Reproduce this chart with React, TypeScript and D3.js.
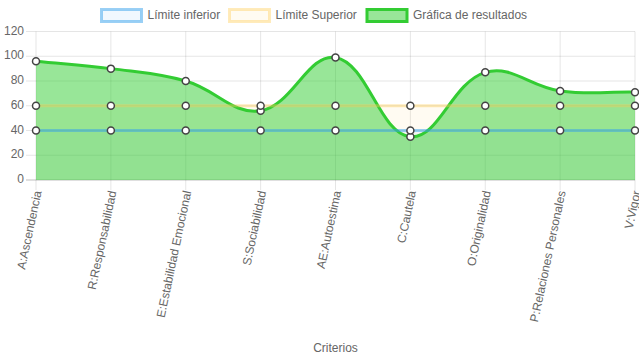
import React from "react";
import * as d3 from "d3";

const categories = [
  "A:Ascendencia",
  "R:Responsabilidad",
  "E:Estabilidad Emocional",
  "S:Sociabilidad",
  "AE:Autoestima",
  "C:Cautela",
  "O:Originalidad",
  "P:Relaciones Personales",
  "V:Vigor",
];
const limiteInferior = [40, 40, 40, 40, 40, 40, 40, 40, 40];
const limiteSuperior = [60, 60, 60, 60, 60, 60, 60, 60, 60];
const resultados = [96, 90, 80, 56, 99, 35, 87, 72, 71];
const yTicks = [0, 20, 40, 60, 80, 100, 120];
const legendLabels = ["Límite inferior", "Límite Superior", "Gráfica de resultados"];

const W = 639;
const H = 360;
const FONT = "'Helvetica Neue', Helvetica, Arial, 'Liberation Sans', sans-serif";

// same colours as the chart.js config would use
const series = [
  { name: legendLabels[0], data: limiteInferior, line: "rgba(54,162,235,0.5)", fill: "rgba(54,162,235,0.07)" },
  { name: legendLabels[1], data: limiteSuperior, line: "rgba(255,205,86,0.4)", fill: "rgba(255,205,86,0.08)" },
  { name: legendLabels[2], data: resultados, line: "#33cc33", fill: "rgba(50,205,50,0.5)" },
];
const legendX = [101.5, 229.5, 367];

type P = { x: number; y: number };

// chart.js style bezier (tension 0.4)
const splinePath = (pts: P[], tension = 0.4) => {
  const ctrl = pts.map((p1, i) => {
    const p0 = pts[i - 1] || p1;
    const p2 = pts[i + 1] || p1;
    const d01 = Math.hypot(p1.x - p0.x, p1.y - p0.y);
    const d12 = Math.hypot(p2.x - p1.x, p2.y - p1.y);
    let s01 = d01 / (d01 + d12);
    let s12 = d12 / (d01 + d12);
    if (isNaN(s01)) s01 = 0;
    if (isNaN(s12)) s12 = 0;
    const fa = tension * s01;
    const fb = tension * s12;
    return {
      prev: { x: p1.x - fa * (p2.x - p0.x), y: p1.y - fa * (p2.y - p0.y) },
      next: { x: p1.x + fb * (p2.x - p0.x), y: p1.y + fb * (p2.y - p0.y) },
    };
  });
  const path = d3.path();
  path.moveTo(pts[0].x, pts[0].y);
  for (let i = 1; i < pts.length; i++) {
    const a = ctrl[i - 1].next;
    const b = ctrl[i].prev;
    path.bezierCurveTo(a.x, a.y, b.x, b.y, pts[i].x, pts[i].y);
  }
  return path.toString();
};

const App = () => {
  const x = d3.scalePoint<string>().domain(categories).range([36, 635]);
  const y = d3.scaleLinear().domain([0, 120]).range([180, 31.5]);

  const lines = series.map((s) => {
    const pts = s.data.map((v, i) => ({ x: x(categories[i]) as number, y: y(v) }));
    const d = splinePath(pts);
    const area = `${d}L${pts[pts.length - 1].x},${y(0)}L${pts[0].x},${y(0)}Z`;
    return { ...s, pts, d, area };
  });

  return (
    <svg
      width={W}
      height={H}
      style={{ position: "absolute", left: 0, top: 0, fontFamily: FONT }}
    >
      <rect width={W} height={H} fill="#fff" />

      {/* legend */}
      {series.map((s, i) => (
        <g key={s.name}>
          <rect x={legendX[i]} y={9.5} width={40} height={12} fill={s.fill} stroke={s.line} strokeWidth={3} />
          <text x={legendX[i] + 46} y={15.5} dominantBaseline="middle" fontSize={12} fill="#666">
            {s.name}
          </text>
        </g>
      ))}

      {/* grid */}
      {yTicks.map((t) => (
        <g key={t}>
          <line
            x1={26}
            x2={635}
            y1={y(t)}
            y2={y(t)}
            stroke={t === 0 ? "rgba(0,0,0,0.25)" : "rgba(0,0,0,0.1)"}
          />
          <text x={24} y={y(t)} textAnchor="end" dominantBaseline="middle" fontSize={12} fill="#666">
            {t}
          </text>
        </g>
      ))}
      {categories.map((c) => (
        <g key={c}>
          <line x1={x(c)} x2={x(c)} y1={31.5} y2={190} stroke="rgba(0,0,0,0.1)" />
          <text
            transform={`translate(${(x(c) as number) + 2.5},191) rotate(-78)`}
            textAnchor="end"
            dominantBaseline="middle"
            fontSize={12}
            fill="#666"
          >
            {c}
          </text>
        </g>
      ))}

      {/* fills first, then lines (top dataset drawn last) */}
      {lines.map((l) => (
        <path key={l.name + "-fill"} d={l.area} fill={l.fill} />
      ))}
      {[...lines].reverse().map((l) => (
        <g key={l.name}>
          <path d={l.d} fill="none" stroke={l.line} strokeWidth={3} />
          {l.pts.map((p, i) => (
            <circle key={i} cx={p.x} cy={p.y} r={3.5} fill="#fff" stroke="#444" strokeWidth={1.5} />
          ))}
        </g>
      ))}

      <text x={(36 + 635) / 2} y={352} textAnchor="middle" fontSize={12} fill="#666">
        Criterios
      </text>
    </svg>
  );
};

export default App;
